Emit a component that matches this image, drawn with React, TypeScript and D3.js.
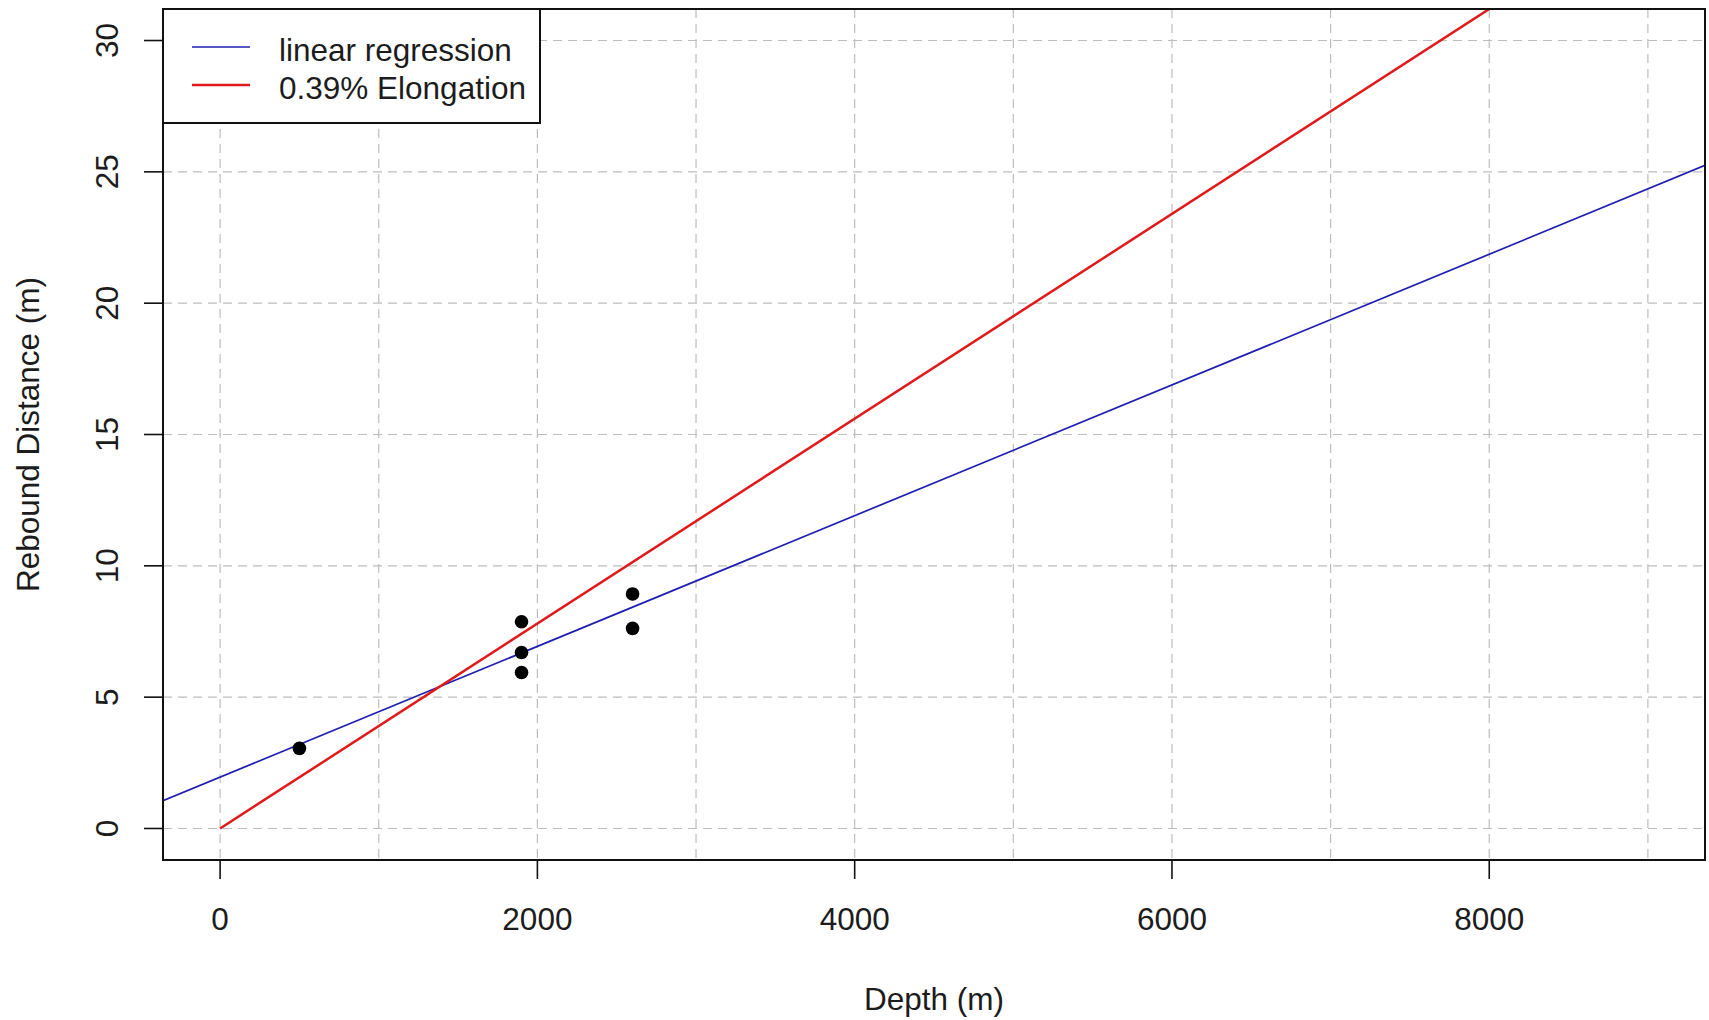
import * as d3 from 'd3'

const depths = [500, 1900, 1900, 1900, 2600, 2600]
const rebound = [3.05, 7.87, 6.7, 5.94, 8.93, 7.62]

const xLimits = [0, 9000]
const yLimits = [0, 30]
const xTicks = [0, 2000, 4000, 6000, 8000]
const yTicks = [0, 5, 10, 15, 20, 25, 30]
const xGrid = [0, 1000, 2000, 3000, 4000, 5000, 6000, 7000, 8000, 9000]
const yGrid = [0, 5, 10, 15, 20, 25, 30]

const elongation = 0.0039 // 0.39%
const legendLabels = ['linear regression', '0.39% Elongation']
const legendColors = ['#1e1eb0', '#e01a1a']

const W = 1709
const H = 1020
const PLOT = { left: 163, right: 1705, top: 9, bottom: 860 }
const FONT = '"Liberation Sans", Arial, sans-serif'
const TEXT = '#1c1c1c'
const FS = 31.5

// R style 4% axis padding
const pad = (lim: number[]) => {
  const d = (lim[1] - lim[0]) * 0.04
  return [lim[0] - d, lim[1] + d]
}

export default function App() {
  const x = d3.scaleLinear().domain(pad(xLimits)).range([PLOT.left, PLOT.right])
  const y = d3.scaleLinear().domain(pad(yLimits)).range([PLOT.bottom, PLOT.top])

  // least squares fit
  const mx = d3.mean(depths) as number
  const my = d3.mean(rebound) as number
  const sxy = d3.sum(depths, (d, i) => (d - mx) * (rebound[i] - my))
  const sxx = d3.sum(depths, d => (d - mx) ** 2)
  const slope = sxy / sxx
  const icept = my - slope * mx

  const [x0, x1] = x.domain()
  const line = d3.line<number[]>().x(d => x(d[0])).y(d => y(d[1]))
  const fitPath = line([[x0, icept + slope * x0], [x1, icept + slope * x1]])
  const elongPath = line([[0, 0], [x1, elongation * x1]])

  const pw = PLOT.right - PLOT.left
  const ph = PLOT.bottom - PLOT.top

  return (
    <svg width={W} height={H} style={{ position: 'absolute', left: 0, top: 0, background: '#fff' }}
      fontFamily={FONT}>
      <defs>
        <clipPath id="plotClip">
          <rect x={PLOT.left} y={PLOT.top} width={pw} height={ph} />
        </clipPath>
      </defs>

      {/* grid */}
      <g stroke="#bdbdbd" strokeWidth={1.2} strokeDasharray="9,6">
        {xGrid.map(v => (
          <line key={'gx' + v} x1={x(v)} x2={x(v)} y1={PLOT.top} y2={PLOT.bottom} />
        ))}
        {yGrid.map(v => (
          <line key={'gy' + v} x1={PLOT.left} x2={PLOT.right} y1={y(v)} y2={y(v)} />
        ))}
      </g>

      {/* lines */}
      <g clipPath="url(#plotClip)" fill="none">
        <path d={fitPath ?? ''} stroke={legendColors[0]} strokeWidth={1.7} />
        <path d={elongPath ?? ''} stroke={legendColors[1]} strokeWidth={2.5} />
      </g>

      {/* points */}
      {depths.map((d, i) => (
        <circle key={i} cx={x(d)} cy={y(rebound[i])} r={6.8} fill="#000" />
      ))}

      {/* frame */}
      <rect x={PLOT.left} y={PLOT.top} width={pw} height={ph} fill="none" stroke="#111" strokeWidth={2} />

      {/* x axis */}
      {xTicks.map(v => (
        <g key={'xt' + v}>
          <line x1={x(v)} x2={x(v)} y1={PLOT.bottom} y2={PLOT.bottom + 19} stroke="#111" strokeWidth={1.6} />
          <text x={x(v)} y={930} textAnchor="middle" fontSize={FS} fill={TEXT}>{v}</text>
        </g>
      ))}

      {/* y axis */}
      {yTicks.map(v => (
        <g key={'yt' + v}>
          <line x1={PLOT.left - 19} x2={PLOT.left} y1={y(v)} y2={y(v)} stroke="#111" strokeWidth={1.6} />
          <text transform={`translate(118,${y(v)}) rotate(-90)`} textAnchor="middle" fontSize={FS} fill={TEXT}>{v}</text>
        </g>
      ))}

      <text x={(PLOT.left + PLOT.right) / 2} y={1010} textAnchor="middle" fontSize={FS} fill={TEXT}>Depth (m)</text>
      <text transform={`translate(39,${(PLOT.top + PLOT.bottom) / 2}) rotate(-90)`} textAnchor="middle"
        fontSize={FS} fill={TEXT}>Rebound Distance (m)</text>

      {/* legend */}
      <g>
        <rect x={PLOT.left} y={PLOT.top} width={377} height={114} fill="#fff" stroke="#111" strokeWidth={2} />
        {legendLabels.map((lab, i) => {
          const ly = 47 + i * 38
          return (
            <g key={lab}>
              <line x1={192} x2={250} y1={ly} y2={ly} stroke={legendColors[i]} strokeWidth={i ? 2.5 : 1.7} />
              <text x={279} y={ly + 14} fontSize={FS} fill={TEXT}>{lab}</text>
            </g>
          )
        })}
      </g>
    </svg>
  )
}
